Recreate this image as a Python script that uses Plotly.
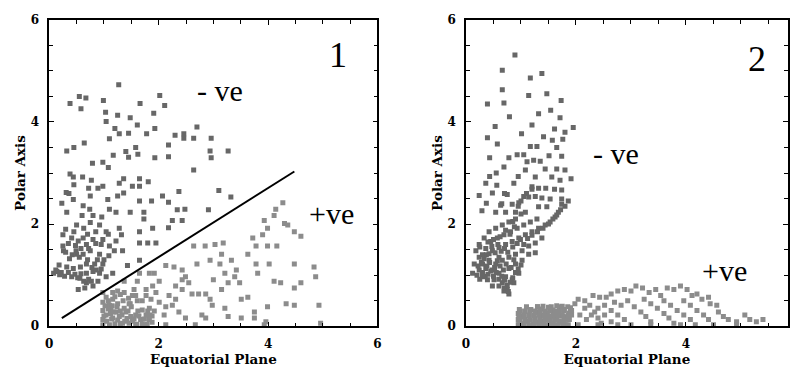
import plotly.graph_objects as go

# ---------------- Panel 1 data ----------------
p1_neg_x = [1.27,0.38,0.55,0.67,0.58,0.99,1.03,1.04,1.25,1.48,1.66,2.02,2.11,1.91,1.61,1.93,1.78,1.45,1.28,1.20,
            1.10,0.45,0.64,0.32,0.98,0.79,1.08,1.17,1.40,1.45,1.58,1.62,1.93,2.18,2.18,2.30,2.46,2.46,2.70,2.64,
            2.96,2.94,2.96,3.27,2.64,0.38,0.44,0.61,0.45,0.31,0.36,0.44,0.23,0.32,0.62,0.75,0.72,0.89,0.77,0.98,
            1.07,1.25,1.28,1.36,1.36,1.52,1.65,1.65,1.81,1.65,1.87,2.07,2.37,2.18,2.48,2.34,2.91,3.10,3.32,2.18,
            2.25,2.43,1.89,1.95,1.80,1.65,1.65,1.73,1.73,1.48,1.22,1.10,0.96,0.80,0.74,0.60,0.50,0.63,0.75,0.92,
            1.04,1.28,1.32,1.22,1.10,0.95,0.80,0.68,0.53,0.41,0.25,0.25,0.26,0.37,0.50,0.62,0.75,0.92,1.09,0.98,
            0.83,0.68,0.57,0.44,0.32,0.14,0.19,0.08,0.41,0.56,0.68,0.80,0.92,1.04,0.68,0.80,0.89,0.65,1.16,1.43,
            1.65,1.19,1.34,0.62,0.49,0.77,0.53]
p1_neg_y = [4.73,4.36,4.50,4.47,4.26,4.42,4.19,4.01,4.13,4.08,4.36,4.52,4.32,4.17,3.94,3.87,3.77,3.78,3.77,3.87,
            3.67,3.50,3.59,3.43,3.21,3.19,3.11,3.35,3.42,3.31,3.50,3.37,3.30,3.55,3.32,3.74,3.77,3.68,3.90,3.68,
            3.68,3.43,3.30,3.43,3.06,2.98,2.92,2.92,2.77,2.62,2.60,2.48,2.41,2.23,2.36,2.55,2.70,2.70,2.86,2.74,
            2.48,2.55,2.80,2.89,2.61,2.74,2.89,2.74,2.83,2.45,2.45,2.55,2.64,2.43,2.29,2.28,2.28,2.66,2.53,1.93,
            2.07,2.07,1.92,1.63,1.63,1.85,1.63,2.10,2.23,2.23,2.23,2.29,2.14,2.17,2.29,2.17,1.98,1.92,2.03,1.98,
            1.85,1.92,1.79,1.67,1.57,1.60,1.70,1.60,1.67,1.73,1.79,1.57,1.48,1.32,1.41,1.41,1.48,1.41,1.38,1.22,
            1.22,1.22,1.16,1.13,1.16,1.07,1.01,1.04,0.97,0.94,1.04,1.07,1.04,0.97,0.85,0.79,0.88,0.75,1.04,1.19,
            1.29,1.48,1.48,1.73,1.48,0.88,0.72]
# denser part of the dark cloud, lower left
p1_neg_dense_x = [0.12,0.18,0.22,0.28,0.35,0.47,0.52,0.58,0.63,0.72,0.78,0.86,0.95,1.00,0.88,0.70,0.55,0.42,0.30,0.35,
                  0.48,0.58,0.72,0.85,0.98,1.08,0.85,0.70,0.45,0.30]
p1_neg_dense_y = [1.10,1.20,1.05,0.98,1.05,1.02,0.95,1.03,0.88,0.92,1.15,1.10,1.12,1.30,1.30,1.30,1.35,1.40,1.45,1.62,
                  1.58,1.52,1.52,1.62,1.70,1.80,1.85,1.80,1.85,1.90]

p1_pos_x = [0.98,1.04,0.98,1.10,0.98,1.04,0.98,0.98,1.10,1.16,1.22,1.28,1.34,1.16,1.25,1.13,1.25,1.40,1.49,1.58,
            1.67,1.77,1.83,1.74,1.58,1.46,1.37,1.46,1.61,1.52,1.37,1.55,1.61,1.83,1.77,1.77,1.89,1.95,2.01,1.86,
            1.83,2.01,2.13,2.10,2.13,2.19,2.13,2.28,2.43,2.49,2.31,2.43,2.31,2.25,2.37,2.49,2.67,2.61,2.73,2.86,
            2.79,2.86,2.98,2.94,3.00,3.12,3.15,3.18,3.03,2.64,2.85,3.21,3.27,3.15,3.21,3.27,3.42,3.39,3.33,3.48,
            3.51,3.63,3.63,3.72,3.78,3.78,3.81,3.75,3.90,3.93,3.99,3.99,4.02,3.99,3.96,3.93,4.11,4.14,4.27,4.30,
            4.36,4.16,4.11,4.23,4.33,4.48,4.60,4.48,4.48,4.60,4.48,4.84,4.87,4.93,4.96,1.92,1.65,1.37,1.16,3.75,
            3.51,2.94,2.70,2.43,2.55,1.05,1.12,1.20,1.30,1.42,1.52,1.62,1.70,1.80,1.88,1.15,1.35,1.50,1.25,1.08]
p1_pos_y = [0.66,0.57,0.47,0.41,0.31,0.22,0.13,0.03,0.03,0.16,0.28,0.19,0.06,0.53,0.69,0.31,0.44,0.28,0.19,0.22,
            0.13,0.22,0.13,0.03,0.03,0.06,0.35,0.44,0.50,0.60,0.66,0.72,0.88,1.04,0.72,0.60,0.79,0.66,0.88,0.53,
            0.35,0.47,0.38,0.22,0.03,0.60,1.19,1.16,1.10,0.97,0.79,0.72,0.53,0.41,0.28,0.16,0.03,0.63,0.63,0.63,
            0.22,0.16,0.41,0.53,0.91,1.22,1.41,1.63,1.60,1.57,1.57,1.04,0.85,0.72,0.35,0.19,1.10,0.97,1.29,0.85,
            0.16,1.41,0.57,1.73,1.57,1.22,1.04,0.16,1.79,2.07,1.92,1.57,1.22,0.38,0.09,0.03,2.17,2.29,2.42,2.01,
            1.98,1.57,0.88,0.85,0.44,1.85,1.76,1.22,0.75,0.85,0.41,1.16,0.97,0.41,0.06,1.04,1.04,0.88,0.66,0.28,
            0.53,1.29,1.22,0.91,0.85,0.10,0.25,0.05,0.30,0.15,0.10,0.30,0.05,0.30,0.20,0.40,0.50,0.38,0.12,0.34]
# dense light clump near the base
p1_pos_dense_x = [1.00,1.02,1.08,1.14,1.18,1.24,1.30,1.33,1.38,1.44,1.48,1.55,1.60,1.64,1.70,1.74,1.79,1.84,1.88,1.92,
                  1.20,1.30,1.45,1.58,1.70]
p1_pos_dense_y = [0.20,0.40,0.50,0.14,0.28,0.38,0.04,0.22,0.10,0.30,0.44,0.14,0.04,0.20,0.32,0.14,0.04,0.22,0.08,0.30,
                  0.58,0.62,0.55,0.60,0.50]

p1_line_x = [0.23, 4.48]
p1_line_y = [0.16, 3.03]

# ---------------- Panel 2 data ----------------
p2_neg_x = [0.89,0.66,1.38,1.17,0.66,1.14,1.47,1.73,0.39,0.69,1.54,1.32,0.79,1.71,1.20,1.61,1.95,1.80,0.53,1.01,
            0.39,1.41,1.57,1.76,0.57,1.17,1.29,1.65,1.51,0.93,1.05,0.78,0.43,1.74,1.11,1.23,1.35,1.80,1.65,1.44,
            1.08,0.69,0.55,0.43,0.95,1.26,1.56,1.91,1.71,0.36,0.87,0.56,1.20,1.32,1.45,1.61,1.74,0.24,0.48,0.75,
            1.05,1.14,1.26,1.38,1.53,1.74,1.86,0.37,0.63,0.84,0.96,1.32,1.47,1.74,0.29,0.54,0.72,0.90,1.08,1.68,
            1.62,1.53,1.44,1.32,1.20,1.08,0.96,0.84,0.72,0.60,0.48,0.37,0.24,0.15,0.12,0.24,0.36,0.48,0.60,0.72,
            0.84,0.66,0.75,0.60,0.30,0.39,0.51,0.54,0.66,0.78,0.90,1.02,1.14,1.26,1.38,0.90,1.02,1.14,1.26,0.78,
            0.96,0.87,0.42,0.54,0.66,0.78,0.90,0.33,0.24,0.18,0.45,0.57,0.69,0.81,0.93,1.05,1.17,1.29,0.60,0.42,
            0.30,0.48,0.78,0.69]
p2_neg_y = [5.31,5.01,4.95,4.86,4.63,4.52,4.55,4.42,4.35,4.37,4.23,4.16,4.10,4.08,3.94,3.86,3.89,3.80,3.91,3.77,
            3.69,3.71,3.64,3.66,3.57,3.52,3.52,3.50,3.34,3.36,3.36,3.30,3.30,3.33,3.22,3.25,3.23,3.06,3.08,3.08,
            3.06,3.12,3.00,2.93,2.93,2.92,2.92,2.89,2.86,2.80,2.80,2.76,2.73,2.70,2.70,2.68,2.67,2.56,2.61,2.58,
            2.54,2.53,2.54,2.51,2.49,2.49,2.45,2.41,2.37,2.39,2.42,2.34,2.34,2.39,2.26,2.23,2.23,2.23,2.23,2.23,
            2.14,2.04,1.98,1.92,1.85,1.79,1.73,1.66,1.60,1.54,1.48,1.40,1.35,1.22,1.04,1.10,1.13,1.10,1.04,0.97,
            0.91,0.85,0.72,0.79,0.97,0.91,0.91,1.22,1.29,1.35,1.41,1.48,1.57,1.63,1.73,1.22,1.29,1.41,1.44,1.13,
            1.04,0.85,1.85,1.92,1.98,2.04,2.10,1.73,1.60,1.48,1.66,1.73,1.79,1.85,1.92,1.98,2.04,2.10,1.35,1.29,
            1.22,0.79,0.63,0.69]
# dense dark mass at the foot of panel 2's plume
p2_neg_dense_x = [0.20,0.25,0.30,0.35,0.40,0.45,0.50,0.55,0.60,0.65,0.70,0.75,0.80,0.70,0.77,0.85,0.90,0.95,1.00,
                  0.22,0.28,0.33,0.38,0.43,0.52,0.57,0.62,0.68,0.73,0.82,0.87,
                  0.30,0.36,0.42,0.47,0.53,0.58,0.64,0.70,0.76,0.85,0.93,0.99,
                  0.25,0.40,0.50,0.62,0.72,0.80,0.88,
                  1.05,1.12,1.20,1.30,1.40,1.50,1.58,1.65,1.72,1.80,
                  0.95,1.00,1.10,1.20,1.00,0.85,0.65,0.70]
p2_neg_dense_y = [1.00,0.92,1.05,0.98,1.02,1.08,0.98,1.05,0.92,0.98,0.90,0.80,0.86,0.75,0.68,0.95,1.05,1.12,1.20,
                  1.18,1.25,1.32,1.18,1.25,1.15,1.28,1.18,1.10,1.22,1.15,1.30,
                  1.40,1.52,1.42,1.56,1.44,1.60,1.47,1.52,1.45,1.55,1.62,1.70,
                  1.55,1.65,1.70,1.75,1.88,1.80,1.95,
                  1.60,1.72,1.78,1.85,1.92,2.00,2.10,2.18,2.28,2.35,
                  2.35,2.45,2.60,2.68,2.20,2.05,2.40,2.60]

p2_pos_x = [0.95,0.95,0.95,0.97,1.05,1.05,1.07,1.12,1.15,1.18,1.22,1.25,1.28,1.32,1.35,1.38,1.42,1.45,1.48,1.52,
            1.55,1.58,1.62,1.65,1.68,1.72,1.75,1.78,1.82,1.85,1.88,1.90,1.70,1.50,1.30,1.10,1.00,1.40,1.60,1.80,
            2.04,2.16,2.25,2.34,2.40,2.46,1.98,1.92,2.07,2.19,2.31,2.43,2.55,2.64,2.76,2.88,3.00,3.09,3.21,3.33,
            3.45,3.54,3.66,3.78,3.90,4.02,4.11,4.20,4.29,4.41,4.44,4.56,4.59,4.68,4.77,4.92,5.07,5.16,5.28,5.40,
            4.92,2.52,2.64,2.76,2.88,3.00,2.70,2.82,2.94,3.06,3.18,3.27,3.36,3.24,3.36,3.48,3.60,3.69,3.78,3.60,
            3.72,3.84,3.96,4.08,4.17,3.96,4.08,4.20,4.32,4.41,4.50,2.40,2.28,2.52,2.64,2.16,1.92,2.04,2.40,2.76,
            3.36,3.90]
p2_pos_y = [0.03,0.13,0.25,0.33,0.05,0.18,0.30,0.10,0.22,0.33,0.03,0.15,0.27,0.08,0.20,0.34,0.03,0.14,0.26,0.08,
            0.20,0.32,0.03,0.15,0.27,0.08,0.21,0.33,0.03,0.14,0.26,0.36,0.38,0.37,0.38,0.38,0.20,0.10,0.25,0.18,
            0.53,0.50,0.41,0.28,0.16,0.06,0.44,0.31,0.22,0.13,0.60,0.57,0.57,0.63,0.69,0.72,0.69,0.79,0.75,0.66,
            0.72,0.60,0.75,0.72,0.79,0.72,0.60,0.63,0.53,0.57,0.44,0.41,0.28,0.19,0.13,0.09,0.22,0.13,0.09,0.13,
            0.03,0.41,0.31,0.22,0.13,0.03,0.47,0.41,0.50,0.38,0.28,0.19,0.09,0.53,0.44,0.35,0.25,0.16,0.06,0.50,
            0.41,0.31,0.22,0.13,0.03,0.50,0.41,0.31,0.22,0.13,0.03,0.35,0.22,0.22,0.09,0.35,0.22,0.03,0.03,0.03,
            0.03,0.03]
# solid light block between x~1 and x~1.9
p2_pos_block_x = [0.96,1.05,1.14,1.23,1.32,1.41,1.50,1.59,1.68,1.77,1.86,
                  0.98,1.07,1.16,1.25,1.34,1.43,1.52,1.61,1.70,1.79,1.88,
                  0.96,1.05,1.14,1.23,1.32,1.41,1.50,1.59,1.68,1.77,1.86,
                  0.98,1.07,1.16,1.25,1.34,1.43,1.52,1.61,1.70,1.79,1.90,
                  1.30,1.40,1.55,1.65,1.75,1.85]
p2_pos_block_y = [0.03,0.04,0.03,0.05,0.03,0.04,0.03,0.05,0.03,0.04,0.03,
                  0.12,0.13,0.12,0.11,0.13,0.12,0.12,0.13,0.11,0.12,0.13,
                  0.21,0.22,0.20,0.21,0.22,0.21,0.20,0.22,0.21,0.20,0.21,
                  0.30,0.29,0.31,0.30,0.29,0.30,0.31,0.30,0.29,0.31,0.30,
                  0.38,0.39,0.38,0.40,0.39,0.38]

DARK = "#676767"
LIGHT = "#8c8c8c"
MSIZE = 5

def pts(x, y, color, xa, ya):
    return go.Scatter(x=x, y=y, mode="markers", xaxis=xa, yaxis=ya,
                      marker=dict(symbol="square", size=MSIZE, color=color, line=dict(width=0)),
                      hoverinfo="skip")

fig = go.Figure()
fig.add_trace(pts(p1_neg_x + p1_neg_dense_x, p1_neg_y + p1_neg_dense_y, DARK, "x", "y"))
fig.add_trace(pts(p1_pos_x + p1_pos_dense_x, p1_pos_y + p1_pos_dense_y, LIGHT, "x", "y"))
fig.add_trace(go.Scatter(x=p1_line_x, y=p1_line_y, mode="lines", xaxis="x", yaxis="y",
                         line=dict(color="black", width=2), hoverinfo="skip"))
fig.add_trace(pts(p2_neg_x + p2_neg_dense_x, p2_neg_y + p2_neg_dense_y, DARK, "x2", "y2"))
fig.add_trace(pts(p2_pos_x + p2_pos_block_x, p2_pos_y + p2_pos_block_y, LIGHT, "x2", "y2"))

W, H = 793, 373
ydom = [(H - 331.7) / H, (H - 13.3) / H]
tickfont = dict(family="DejaVu Serif", size=12, color="black", weight="bold")
titlefont = dict(family="DejaVu Serif", size=13.5, color="black", weight="bold")

def ax(rng, dom, title, anchor, standoff):
    return dict(range=rng, domain=dom, anchor=anchor, showgrid=False, zeroline=False,
                showline=True, linecolor="black", linewidth=1.5, mirror="ticks",
                ticks="inside", ticklen=5, tickwidth=1.2, tickcolor="black",
                tick0=0, dtick=2, ticklabelstandoff=6,
                minor=dict(dtick=0.5, tick0=0, ticks="inside", ticklen=4, tickwidth=1, tickcolor="black"),
                tickfont=tickfont, title=dict(text=title, font=titlefont, standoff=standoff))

fig.update_layout(
    width=W, height=H, margin=dict(l=0, r=0, t=0, b=0),
    paper_bgcolor="white", plot_bgcolor="white", showlegend=False,
    xaxis=ax([0, 6], [45.7 / W, 377.3 / W], "Equatorial Plane", "y", 2),
    yaxis=ax([0, 6], ydom, "Polar Axis", "x", 2),
    xaxis2=ax([0, 5.85], [466.7 / W, 791.7 / W], "Equatorial Plane", "y2", 2),
    yaxis2=ax([0, 6], ydom, "Polar Axis", "x2", 2),
)

big = dict(family="Liberation Serif", size=30, color="black")
num = dict(family="Liberation Serif", size=36, color="black")
ann = [
    dict(x=5.27, y=5.31, xref="x", yref="y", text="1", font=num),
    dict(x=3.12, y=4.61, xref="x", yref="y", text="- ve", font=big),
    dict(x=5.16, y=2.20, xref="x", yref="y", text="+ve", font=big),
    dict(x=5.30, y=5.23, xref="x2", yref="y2", text="2", font=num),
    dict(x=2.72, y=3.39, xref="x2", yref="y2", text="- ve", font=big),
    dict(x=4.70, y=1.10, xref="x2", yref="y2", text="+ve", font=big),
]
fig.update_layout(annotations=[dict(a, showarrow=False) for a in ann])

fig.write_html("out.html")
